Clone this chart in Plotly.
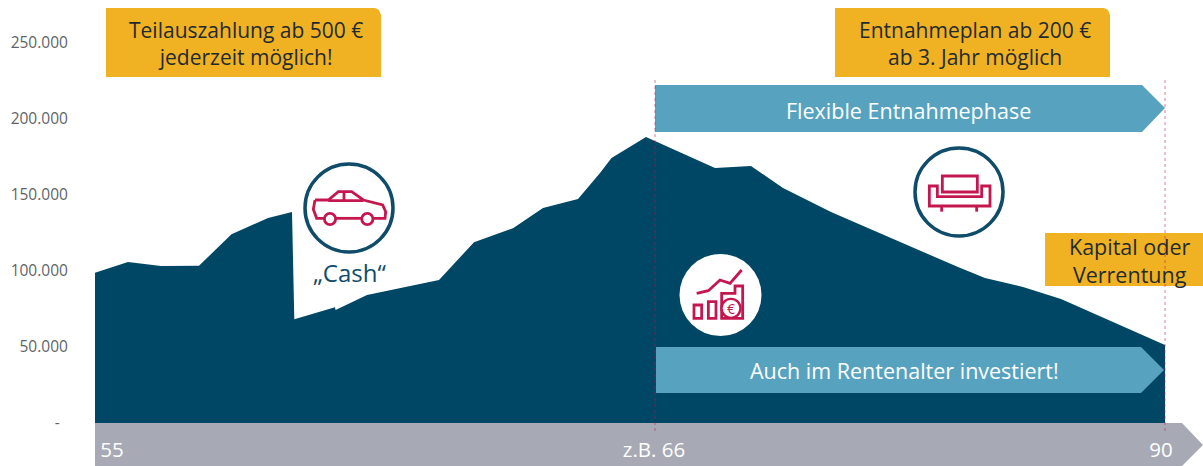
import plotly.graph_objects as go

# Horizontal position along the time axis (reads 55 at 0, z.B. 66 at 560, 90 at 1070)
time_pos = [0, 12, 33, 66, 104, 136.5, 173, 197, 199.3, 240, 240.6, 272, 288, 344, 379, 418,
            448, 483, 505, 516.5, 551, 620, 656, 688, 736, 793, 863, 890, 928, 966, 1070]
capital = [98900, 101300, 105900, 103300, 103500, 124100, 134900, 138800, 68200, 76100, 74300,
           84200, 86400, 94100, 118900, 128100, 141400, 147400, 164500, 174300, 188200, 167800,
           169100, 154600, 138800, 122400, 102600, 95400, 89500, 81600, 51300]
y_ticks = [0, 50000, 100000, 150000, 200000, 250000]
y_labels = ["-\u00a0\u00a0", "50.000", "100.000", "150.000", "200.000", "250.000"]
x_ticks = [17, 559, 1066]
x_labels = ["55", "z.B. 66", "90"]

W, H = 1203, 466
L, R, T, B = 95, 38, 0, 43
FONT = "Open Sans"
NAVY = "#004766"
RING = "#0F4C6A"
RED = "#C5174F"
ORANGE = "#F0B222"
BLUE = "#57A3BF"
GREY = "#A7AAB4"
INK = "#1F2A30"


def fx(p):
    return (p - L) / (W - L - R)


def fy(p):
    return (H - B - p) / (H - B - T)


def path(points, close=False):
    s = "M " + " L ".join(f"{fx(x):.5f},{fy(y):.5f}" for x, y in points)
    return s + (" Z" if close else "")


def poly(points, fill, line=None, width=0, close=True):
    return dict(type="path", xref="paper", yref="paper", path=path(points, close),
                fillcolor=fill, line=dict(color=line or "rgba(0,0,0,0)", width=width))


def circle(cx, cy, r, fill, line=None, width=0):
    return dict(type="circle", xref="paper", yref="paper", x0=fx(cx - r), x1=fx(cx + r),
                y0=fy(cy + r), y1=fy(cy - r), fillcolor=fill,
                line=dict(color=line or "rgba(0,0,0,0)", width=width))


def stroke(points, close=False, width=2.8):
    return poly(points, "rgba(0,0,0,0)", RED, width, close)


def rect(x0, y0, x1, y1):
    return [(x0, y0), (x1, y0), (x1, y1), (x0, y1)]


def z(cx, cy, pts):
    return [(cx + a / 3, cy + b / 3) for a, b in pts]


def text(x, y, s, size, color):
    return dict(xref="paper", yref="paper", x=fx(x), y=fy(y), text=s, showarrow=False,
                xanchor="center", yanchor="middle", align="center",
                font=dict(family=FONT, size=size, color=color))


below = [
    poly([(95, 423), (1182, 423), (1203, 445), (1182, 466), (95, 466)], GREY),
]
boxes = [
    poly([(106, 8), (375, 8), (379, 10), (381, 15), (381, 77), (106, 77)], ORANGE),
    poly([(835, 8), (1104, 8), (1108, 10), (1110, 15), (1110, 77), (835, 77)], ORANGE),
    poly(rect(1045, 233, 1203, 286), ORANGE),
    poly([(655, 85), (1142, 85), (1165, 108), (1142, 132), (655, 132)], BLUE),
    poly([(656, 347), (1141, 347), (1164, 370), (1141, 393), (656, 393)], BLUE),
]
dashes = []
for xp in (655, 1165):
    dashes.append(dict(type="line", xref="paper", yref="paper", x0=fx(xp), x1=fx(xp),
                       y0=fy(80), y1=fy(433), opacity=0.7,
                       line=dict(color="#C5174F", width=0.8, dash="dot")))
icons = [
    circle(349, 208, 44, "white", RING, 3.5),
    circle(959, 192, 44, "white", RING, 3.5),
    circle(720.5, 295, 41, "white"),
]
# car
icons += [
    stroke(z(270, 150, [(135, 150), (175, 150), (205, 125), (245, 125), (280, 150), (338, 165),
                        (347, 185), (345, 205), (310, 205)])),
    stroke(z(270, 150, [(275, 205), (197, 205)])),
    stroke(z(270, 150, [(163, 205), (140, 205), (130, 178), (135, 150)])),
    stroke(z(270, 150, [(175, 152), (280, 152)])),
    stroke(z(270, 150, [(222, 125), (222, 152)])),
    circle(270 + 180 / 3, 150 + 207 / 3, 5.6, "white", RED, 2.8),
    circle(270 + 292 / 3, 150 + 207 / 3, 5.6, "white", RED, 2.8),
]
# sofa
icons += [
    stroke(z(900, 150, rect(127, 78, 232, 126)), close=True),
    stroke(z(900, 150, [(88, 108), (112, 108), (112, 140), (245, 140), (245, 108), (270, 108),
                        (270, 168), (88, 168)]), close=True),
    stroke(z(900, 150, [(125, 168), (125, 185)])),
    stroke(z(900, 150, [(230, 168), (230, 185)])),
]
# growth chart
icons += [
    stroke(z(670, 250, rect(72, 165, 95, 205)), close=True),
    stroke(z(670, 250, rect(115, 155, 138, 205)), close=True),
    stroke(z(670, 250, [(155, 205), (155, 130), (195, 130), (195, 108), (218, 108), (218, 205)]), close=True),
    stroke(z(670, 250, [(80, 130), (115, 122), (150, 90), (180, 100), (215, 60)])),
    circle(670 + 183 / 3, 250 + 175 / 3, 9.5, "white", RED, 2.4),
]

anns = [
    text(246, 43, "Teilauszahlung ab 500 €<br>jederzeit möglich!", 21, INK),
    text(975, 43, "Entnahmeplan ab 200 €<br>ab 3. Jahr möglich", 21, INK),
    text(1129, 260, "Kapital oder<br>Verrentung", 21.5, INK),
    text(908, 110, "Flexible Entnahmephase", 21.5, "white"),
    text(904.5, 370, "Auch im Rentenalter investiert!", 21.5, "white"),
    text(349, 273, "„Cash“", 24, RING),
    text(731, 308, "€", 14, RED),
]

fig = go.Figure(go.Scatter(x=time_pos, y=capital, mode="lines", fill="tozeroy",
                           fillcolor=NAVY, line=dict(color=NAVY, width=0), hoverinfo="skip"))

shapes = [dict(s, layer="below") for s in below] + boxes + dashes + icons

fig.update_layout(
    width=W, height=H, margin=dict(l=L, r=R, t=T, b=B),
    paper_bgcolor="white", plot_bgcolor="white", showlegend=False,
    xaxis=dict(range=[0, 1070], tickmode="array", tickvals=x_ticks, ticktext=x_labels,
               showgrid=False, zeroline=False, showline=False, ticks="outside", ticklen=8,
               tickcolor="rgba(0,0,0,0)", tickfont=dict(family=FONT, size=20.5, color="white")),
    yaxis=dict(range=[0, 278290], tickmode="array", tickvals=y_ticks, ticktext=y_labels,
               showgrid=False, zeroline=False, showline=False, ticks="outside", ticklen=23,
               tickcolor="rgba(0,0,0,0)", tickfont=dict(family=FONT, size=15.5, color="#5F6468")),
    shapes=shapes, annotations=anns,
)
fig.write_html("out.html", config={"displayModeBar": False},
               post_script="document.body.style.margin='0';")
